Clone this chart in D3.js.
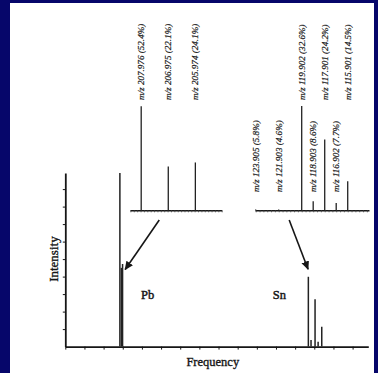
<!DOCTYPE html>
<html>
<head>
<meta charset="utf-8">
<script src="https://cdn.jsdelivr.net/npm/d3@7"></script>
<style>
  html, body { margin: 0; padding: 0; background: #06066a; }
  svg { display: block; }
</style>
</head>
<body>
<script>
// Main spectrum: peak positions along the frequency axis (axis units) and their intensities
const pbMainPos = [2.85, 2.93, 2.99];
const pbMainInt = [9.92, 4.5, 4.72];
const snMainPos = [12.69, 12.83, 13.04, 13.20, 13.39];
const snMainInt = [3.99, 0.38, 2.70, 0.28, 1.13];
const freqTicks = d3.range(0, 16);
const intensityTicks = d3.range(1, 10);

// Pb isotope inset: m/z and natural abundance (%)
const pbMz = [207.976, 206.975, 205.974];
const pbAbund = [52.4, 22.1, 24.1];

// Sn isotope inset: m/z, abundance (%) and measured relative intensity
const snMz = [123.905, 121.903, 119.902, 118.903, 117.901, 116.902, 115.901];
const snAbund = [5.8, 4.6, 32.6, 8.6, 24.2, 7.7, 14.5];
const snInt = [0.8, 0.8, 100, 8.7, 68, 7.0, 27.9];

const W = 378, H = 373;
const ink = "#161616";
const serif = "'Liberation Serif', 'Times New Roman', serif";

const svg = d3.select("body").append("svg").attr("width", W).attr("height", H);
svg.append("rect").attr("width", W).attr("height", H).attr("fill", "#06066a");
svg.append("rect").attr("x", 10).attr("y", 3).attr("width", 364).attr("height", H - 3).attr("fill", "#fff");

// heavier serif text, like a printed figure
function ink_text(sel, size, weight) {
  return sel.attr("font-family", serif).attr("font-size", size).attr("fill", ink)
    .attr("stroke", ink).attr("stroke-width", weight).attr("paint-order", "stroke");
}

// ---------- main spectrum ----------
const x = d3.scaleLinear().domain([0, 15.82]).range([65.3, 368.3]);
const y = d3.scaleLinear().domain([0, 9.92]).range([346.6, 173]);

const xAxis = svg.append("g").attr("transform", `translate(0,${y(0)})`)
  .call(d3.axisBottom(x).tickValues(freqTicks).tickSize(3).tickSizeOuter(0).tickFormat(""));
const yAxis = svg.append("g").attr("transform", `translate(${x(0)},0)`)
  .call(d3.axisLeft(y).tickValues(intensityTicks).tickSize(2.5).tickSizeOuter(0).tickFormat(""));
[xAxis, yAxis].forEach(g => {
  g.select(".domain").attr("stroke", ink).attr("stroke-width", 1.8);
  g.selectAll(".tick line").attr("stroke", ink).attr("stroke-width", 1);
});

const mainPeaks = pbMainPos.map((p, i) => ({ p, v: pbMainInt[i] }))
  .concat(snMainPos.map((p, i) => ({ p, v: snMainInt[i] })));
svg.append("g").selectAll("line").data(mainPeaks).join("line")
  .attr("x1", d => x(d.p)).attr("x2", d => x(d.p))
  .attr("y1", y(0)).attr("y2", d => y(d.v))
  .attr("stroke", "#222").attr("stroke-width", 1.5);

ink_text(svg.append("text"), 12.5, 0.35).attr("x", 212.8).attr("y", 366)
  .attr("text-anchor", "middle").text("Frequency");
ink_text(svg.append("text"), 13, 0.35).attr("transform", `translate(57.5,${y(5)}) rotate(-90)`)
  .attr("text-anchor", "middle").text("Intensity");

ink_text(svg.append("text"), 12.5, 0.45).attr("x", 147.7).attr("y", 299)
  .attr("text-anchor", "middle").text("Pb");
ink_text(svg.append("text"), 12.5, 0.45).attr("x", 279.3).attr("y", 299)
  .attr("text-anchor", "middle").text("Sn");

// ---------- insets ----------
const insetBase = 210.3;

function drawInset(xs, ys, mz, values, abund, tickVals) {
  const g = svg.append("g");
  g.append("g").attr("transform", `translate(0,${insetBase})`)
    .call(d3.axisBottom(xs).tickValues(tickVals).tickSize(2).tickSizeOuter(0).tickFormat(""))
    .call(a => a.select(".domain").attr("stroke", ink).attr("stroke-width", 1.6))
    .call(a => a.selectAll(".tick line").attr("stroke", "#444").attr("stroke-width", 0.8));
  g.selectAll("line.peak").data(mz).join("line").attr("class", "peak")
    .attr("x1", d => xs(d)).attr("x2", d => xs(d))
    .attr("y1", insetBase).attr("y2", (d, i) => ys(values[i]))
    .attr("stroke", "#222").attr("stroke-width", 1.3);
  ink_text(g.selectAll("text.lbl").data(mz).join("text").attr("class", "lbl"), 9.1, 0.2)
    .attr("transform", (d, i) => {
      const yStart = ys(values[i]) < insetBase - 25 ? 100 : 192;
      return `translate(${xs(d)},${yStart}) rotate(-90)`;
    })
    .attr("dy", "0.33em")
    .attr("font-style", "italic")
    .text((d, i) => `m/z ${d.toFixed(3)} (${abund[i].toFixed(1)}%)`);
}

const pbX = d3.scaleLinear().domain([208.39, 205.0]).range([130, 221.7]);
const pbY = d3.scaleLinear().domain([0, 52.4]).range([insetBase, 106.3]);
drawInset(pbX, pbY, pbMz, pbAbund, pbAbund, d3.range(0, 28).map(i => 208.375 - i * 0.125));

const snX = d3.scaleLinear().domain([123.963, 114.05]).range([255, 369]);
const snY = d3.scaleLinear().domain([0, 100]).range([insetBase, 106]);
drawInset(snX, snY, snMz, snInt, snAbund, d3.range(0, 30).map(i => 123.9 - i / 3));

// ---------- arrows from each inset down to its peak group ----------
svg.append("defs").append("marker").attr("id", "head")
  .attr("viewBox", "0 0 10 10").attr("refX", 9).attr("refY", 5)
  .attr("markerWidth", 5.5).attr("markerHeight", 5.5).attr("orient", "auto")
  .attr("markerUnits", "strokeWidth")
  .append("path").attr("d", "M0,0.5 L10,5 L0,9.5 Z").attr("fill", ink);

const arrows = [
  { x1: pbX(206.975) - 9, y1: insetBase + 9.7, x2: x(pbMainPos[2]) + 2.6, y2: y(pbMainInt[2]) + 5.5 },
  { x1: snX(121.903) + 10.5, y1: insetBase + 9.7, x2: x(snMainPos[0]) - 0.3, y2: y(snMainInt[0]) - 7.5 }
];
svg.append("g").selectAll("line").data(arrows).join("line")
  .attr("x1", d => d.x1).attr("y1", d => d.y1).attr("x2", d => d.x2).attr("y2", d => d.y2)
  .attr("stroke", ink).attr("stroke-width", 1.6).attr("marker-end", "url(#head)");
</script>
</body>
</html>
